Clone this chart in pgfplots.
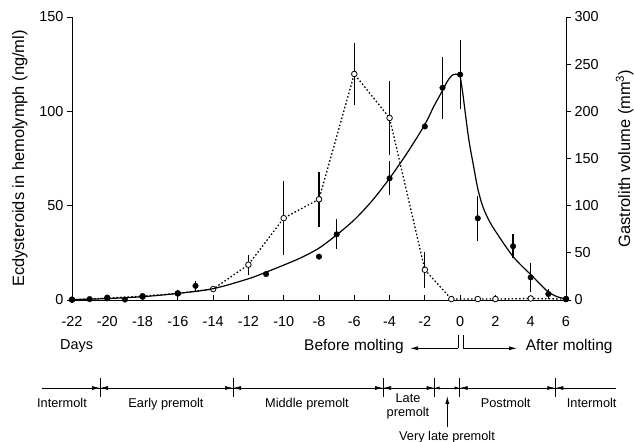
\documentclass[border=0pt]{standalone}
\usepackage{fontspec}
\setmainfont{Liberation Sans}
\usepackage{pgfplots}
\pgfplotsset{compat=1.18}
\usetikzlibrary{arrows.meta}

\pgfplotstableread{
x y e
-22 0.2 0
-20 1.0 0
-18 2.0 0
-16 3.5 0
-14 5.8 0
-12 18.7 5.3
-10 43.4 19.7
-8 53.4 14.7
-6 119.8 16.6
-4 96.5 19.7
-2 16.0 9.5
-0.5 0.5 0
1 0.5 0
2 0.5 0
4 0.8 0
6 0.5 0
}\ecdy

\pgfplotstableread{
x y e
-22 0.3 0
-21 1 0
-20 2.5 0
-19 0.5 0
-18 3.5 0
-16 7 0
-15 15 5
-11 27.5 0
-8 46 0
-7 69.6 16
-4 129 18
-2 184 0
-1 225 33
0 239 37
1 86.6 24
3 57 13
4 24 15
5 6.4 5
6 1 0
}\gastro

\pgfplotstableread{
x y
-22 0.3
-20 1.5
-18 3.5
-16 7
-14 12
-12 22.5
-11 29.5
-10 37
-9 45
-8 55
-7 69
-6 85
-5 105
-4 129
-3 156
-2 186
-1.5 205
-1 222
-0.75 231
-0.5 237.5
-0.25 239.5
0 238
}\fitup

\pgfplotstableread{
x y
0 238
0.15 219
0.3 197
0.5 169
0.75 143
1.0 118
1.25 101
1.5 89.5
1.75 80.5
2 73
2.5 59
3 46
3.5 36
4 27
4.5 17.5
5 8.5
5.5 3.5
6 1
}\fitdown

\pgfplotsset{
  base/.style={
    at={(72bp,142bp)}, anchor=south west,
    scale only axis, width=494bp, height=283bp,
    xmin=-22, xmax=6, clip=false,
    major tick length=5bp,
    tick style={line width=0.9bp, black},
    axis line style={line width=0.9bp},
    tick label style={font=\fontsize{14.5}{16}\selectfont},
  }
}

\begin{document}
\begin{tikzpicture}
\path[use as bounding box] (0,0) rectangle (634bp,442bp);

% x axis
\begin{axis}[base,
  ymin=0, ymax=150,
  axis x line*=bottom, axis y line=none,
  tick align=inside,
  xtick={-22,-20,...,6},
  xticklabels={-22,-20,-18,-16,-14,-12,-10,-8,-6,-4,-2,0,2,4,6},
  x tick label style={yshift=-13bp},
  ytick=\empty,
]
\addplot[draw=none] coordinates {(-22,0)};
\end{axis}

% left axis: ecdysteroids
\begin{axis}[base,
  ymin=0, ymax=150,
  axis x line=none, axis y line*=left,
  tick align=outside,
  xtick=\empty,
  ytick={0,50,100,150}, yticklabels={0,50,100,150},
  ylabel={Ecdysteroids in hemolymph (ng/ml)},
  every axis y label/.style={at={(axis description cs:-0.1053,0.5)}, anchor=center, rotate=90, font=\fontsize{16.5}{19}\selectfont},
]
\addplot[black, line width=1.3bp, dash pattern=on 1.5bp off 2.2bp,
  mark=*, mark size=2.8bp, mark options={solid, fill=white, draw=black, line width=0.8bp},
  error bars/.cd, y dir=both, y explicit, error mark=none,
  error bar style={solid, line width=1.2bp, black}]
  table[x=x, y=y, y error=e] {\ecdy};
\end{axis}

% right axis: gastrolith
\begin{axis}[base,
  ymin=0, ymax=300,
  axis x line=none, axis y line*=right,
  tick align=outside,
  xtick=\empty,
  ytick={0,50,100,150,200,250,300}, yticklabels={0,50,100,150,200,250,300},
  ylabel={Gastrolith volume (mm\textsuperscript{3})},
  every axis y label/.style={at={(axis description cs:1.119,0.5)}, anchor=center, rotate=90, font=\fontsize{16.5}{19}\selectfont},
]
\addplot[black, line width=1.2bp, smooth, tension=0.5, no marks] table[x=x,y=y] {\fitup};
\addplot[black, line width=1.2bp, smooth, tension=0.5, no marks] table[x=x,y=y] {\fitdown};
\addplot[black, only marks, mark=*, mark size=2.8bp,
  error bars/.cd, y dir=both, y explicit, error mark=none,
  error bar style={solid, line width=1.2bp, black}]
  table[x=x, y=y, y error=e] {\gastro};
\end{axis}

% annotations below the axis
\node[anchor=base west, inner sep=0, font=\fontsize{14.5}{17}\selectfont] at (60bp,92bp) {Days};
\node[anchor=base east, inner sep=0, font=\fontsize{15.5}{18}\selectfont] at (404bp,91.5bp) {Before molting};
\node[anchor=base west, inner sep=0, font=\fontsize{15.5}{18}\selectfont] at (525.7bp,91.5bp) {After molting};
\draw[line width=0.8bp, -{Latex[length=8bp,width=4bp]}] (458bp,93.7bp) -- (410bp,93.7bp);
\draw[line width=0.8bp, -{Latex[length=8bp,width=4bp]}] (463bp,93.7bp) -- (517bp,93.7bp);
\draw[line width=0.8bp] (458bp,93.7bp) -- (458bp,107bp);
\draw[line width=0.8bp] (463bp,93.7bp) -- (463bp,107bp);

% phase line
\draw[line width=0.7bp] (42bp,54bp) -- (616bp,54bp);
\foreach \d in {100,233,383,434.7,459.7,555.3} {
  \draw[line width=0.8bp] (\d bp,45bp) -- (\d bp,64bp);
}
\tikzset{ph/.style={line width=0.7bp, {Latex[length=8bp,width=4bp]}-{Latex[length=8bp,width=4bp]}},
         phs/.style={line width=0.7bp, {Latex[length=5bp,width=3.2bp]}-{Latex[length=5bp,width=3.2bp]}}}
\draw[line width=0.7bp, -{Latex[length=8bp,width=4bp]}] (42bp,54bp) -- (100bp,54bp);
\draw[ph] (100bp,54bp) -- (233bp,54bp);
\draw[ph] (233bp,54bp) -- (383bp,54bp);
\draw[ph] (383bp,54bp) -- (434.7bp,54bp);
\draw[phs] (434.7bp,54bp) -- (459.7bp,54bp);
\draw[ph] (459.7bp,54bp) -- (555.3bp,54bp);
\draw[line width=0.7bp, {Latex[length=8bp,width=4bp]}-] (555.3bp,54bp) -- (616bp,54bp);

\tikzset{pl/.style={anchor=base, inner sep=0, font=\fontsize{12.8}{15}\selectfont}}
\node[pl] at (62bp,34.7bp) {Intermolt};
\node[pl] at (166bp,34.7bp) {Early premolt};
\node[pl] at (307bp,34.7bp) {Middle premolt};
\node[pl] at (408bp,39.7bp) {Late};
\node[pl] at (408bp,25.7bp) {premolt};
\node[pl] at (505.7bp,34.7bp) {Postmolt};
\node[pl] at (591.7bp,34.7bp) {Intermolt};
\node[pl] at (447bp,1.9bp) {Very late premolt};
\draw[line width=0.8bp, -{Latex[length=8bp,width=4bp]}] (447.3bp,15bp) -- (447.3bp,46bp);
\end{tikzpicture}
\end{document}
